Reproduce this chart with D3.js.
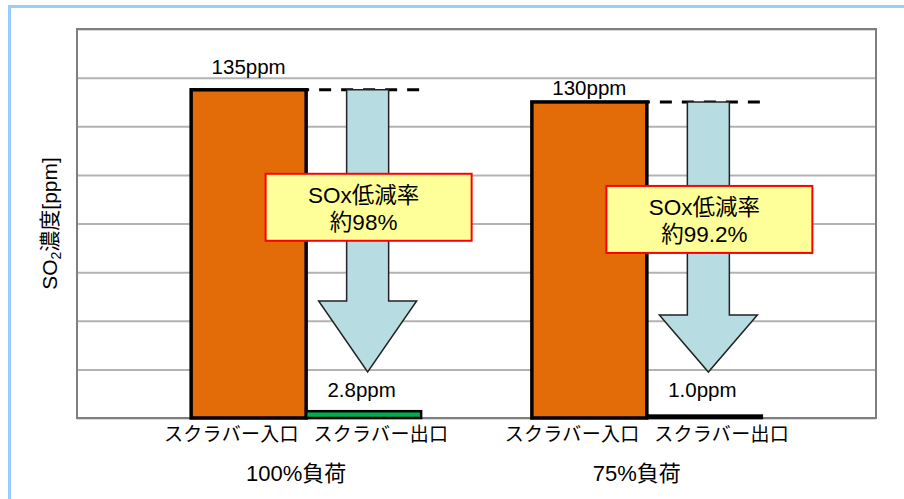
<!DOCTYPE html>
<html>
<head>
<meta charset="utf-8">
<script src="https://cdn.jsdelivr.net/npm/d3@7"></script>
<style>
  body { margin: 0; background: #fff; }
  svg text { font-family: "Liberation Sans", "Noto Sans CJK JP", sans-serif; fill: #000; }
</style>
</head>
<body>
<svg id="chart" width="904" height="499"></svg>
<script>
// data
var groups = ['100%負荷', '75%負荷'];
var stages = ['スクラバー入口', 'スクラバー出口'];
var inlet = [135, 130];
var outlet = [2.8, 1.0];
var valueLabels = [['135ppm', '2.8ppm'], ['130ppm', '1.0ppm']];
var rateText = ['約98%', '約99.2%'];
var yTicks = [0, 20, 40, 60, 80, 100, 120, 140, 160];

var svg = d3.select('#chart');
// note: "top" is taken by window.top, so plot edges get their own names
var pL = 77, pR = 876, pT = 29, pB = 418;

// light blue frame round the picture
svg.append('path')
    .attr('d', 'M9.5,499 V6.5 H904')
    .attr('fill', 'none')
    .attr('stroke', '#99ccff')
    .attr('stroke-width', 3);

var y = d3.scaleLinear().domain([0, 160]).range([pB, pT]);
var x0 = d3.scaleBand().domain(groups).range([pL, pR])
    .paddingInner(0.325).paddingOuter(0.335);
var x1 = d3.scaleBand().domain(stages).range([0, x0.bandwidth()]);

// grid
var grid = d3.axisLeft(y).tickValues(yTicks).tickSize(-(pR - pL)).tickFormat('');
svg.append('g')
    .attr('class', 'grid')
    .attr('transform', 'translate(' + pL + ',0)')
    .call(grid)
    .call(function(g){
      g.select('.domain').remove();
      g.selectAll('.tick line').attr('stroke', '#b3b3b3').attr('stroke-width', 2);
    });

svg.append('rect')
    .attr('x', pL).attr('y', pT)
    .attr('width', pR - pL).attr('height', pB - pT)
    .attr('fill', 'none')
    .attr('stroke', '#7f7f7f')
    .attr('stroke-width', 2);

var rows = groups.map(function(g, i){
  return { group: g, i: i, vals: [inlet[i], outlet[i]] };
});

var grp = svg.selectAll('.grp').data(rows).enter().append('g')
    .attr('class', 'grp')
    .attr('transform', function(d){ return 'translate(' + x0(d.group) + ',0)'; });

// inlet bars
grp.append('rect')
    .attr('x', x1(stages[0]))
    .attr('y', function(d){ return y(d.vals[0]); })
    .attr('width', x1.bandwidth())
    .attr('height', function(d){ return y(0) - y(d.vals[0]); })
    .attr('fill', '#e36c09')
    .attr('stroke', '#000')
    .attr('stroke-width', 3.5);

// dashed level line from inlet to end of outlet
grp.append('line')
    .attr('x1', x1(stages[1]))
    .attr('x2', x1(stages[1]) + x1.bandwidth())
    .attr('y1', function(d){ return y(d.vals[0]); })
    .attr('y2', function(d){ return y(d.vals[0]); })
    .attr('stroke', '#000')
    .attr('stroke-width', 3)
    .attr('stroke-dasharray', '12,10')
    .attr('stroke-dashoffset', 9);

// outlet bars
grp.append('rect')
    .attr('x', x1(stages[1]))
    .attr('y', function(d){ return y(d.vals[1]); })
    .attr('width', x1.bandwidth())
    .attr('height', function(d){ return y(0) - y(d.vals[1]); })
    .attr('fill', '#00b050')
    .attr('stroke', '#000')
    .attr('stroke-width', 2.5);

// reduction arrows
var headH = [71, 57];
grp.append('path')
    .attr('d', function(d){
      var cx = x1(stages[1]) + x1.bandwidth() / 2 + 4;
      var t = y(d.vals[0]), tip = y(0) - 46, hb = tip - headH[d.i];
      var sw = 21, hw = 49;
      return 'M' + (cx - sw) + ',' + t + ' H' + (cx + sw) + ' V' + hb +
        ' H' + (cx + hw) + ' L' + cx + ',' + tip + ' L' + (cx - hw) + ',' + hb +
        ' H' + (cx - sw) + ' Z';
    })
    .attr('fill', '#b7dde3')
    .attr('stroke', '#222')
    .attr('stroke-width', 1.5);

// rate boxes
var box = grp.append('g')
    .attr('transform', function(d){
      var cx = x1(stages[1]) + x1.bandwidth() / 2 + 5;
      return 'translate(' + cx + ',' + (y(d.vals[0]) + 118) + ')';
    });
box.append('rect')
    .attr('x', -103).attr('y', -34)
    .attr('width', 206).attr('height', 67)
    .attr('fill', '#ffff99')
    .attr('stroke', '#ff0000')
    .attr('stroke-width', 2);
box.append('text')
    .attr('x', -5).attr('y', -5)
    .attr('text-anchor', 'middle')
    .style('font-size', '22.5px')
    .text('SOx低減率');
box.append('text')
    .attr('x', -5).attr('y', 22)
    .attr('text-anchor', 'middle')
    .style('font-size', '22.5px')
    .text(function(d){ return rateText[d.i]; });

// value labels
var topOff = [16, 7];
grp.append('text')
    .attr('x', x1(stages[0]) + x1.bandwidth() / 2)
    .attr('y', function(d){ return y(d.vals[0]) - topOff[d.i]; })
    .attr('text-anchor', 'middle')
    .style('font-size', '20.5px')
    .text(function(d){ return valueLabels[d.i][0]; });
grp.append('text')
    .attr('x', x1(stages[1]) + x1.bandwidth() / 2 - 2)
    .attr('y', y(0) - 21)
    .attr('text-anchor', 'middle')
    .style('font-size', '20.5px')
    .text(function(d){ return valueLabels[d.i][1]; });

// category labels, spread a bit wider than the bars
stages.forEach(function(s, j){
  grp.append('text')
      .attr('x', x0.bandwidth() / 2 + (x1(s) + x1.bandwidth() / 2 - x0.bandwidth() / 2) * 1.3)
      .attr('y', 441)
      .attr('text-anchor', 'middle')
      .style('font-size', '19px')
      .style('letter-spacing', '0.3px')
      .text(s);
});

grp.append('text')
    .attr('x', x0.bandwidth() / 2 - 10)
    .attr('y', 481)
    .attr('text-anchor', 'middle')
    .style('font-size', '22px')
    .text(function(d){ return d.group; });

// y axis title
var yt = svg.append('text')
    .attr('transform', 'translate(57,' + ((pT + pB) / 2) + ') rotate(-90)')
    .attr('text-anchor', 'middle')
    .style('font-size', '21px');
yt.append('tspan').text('SO');
yt.append('tspan').attr('dy', 4).style('font-size', '14px').text('2');
yt.append('tspan').attr('dy', -4).text('濃度[ppm]');
</script>
</body>
</html>
